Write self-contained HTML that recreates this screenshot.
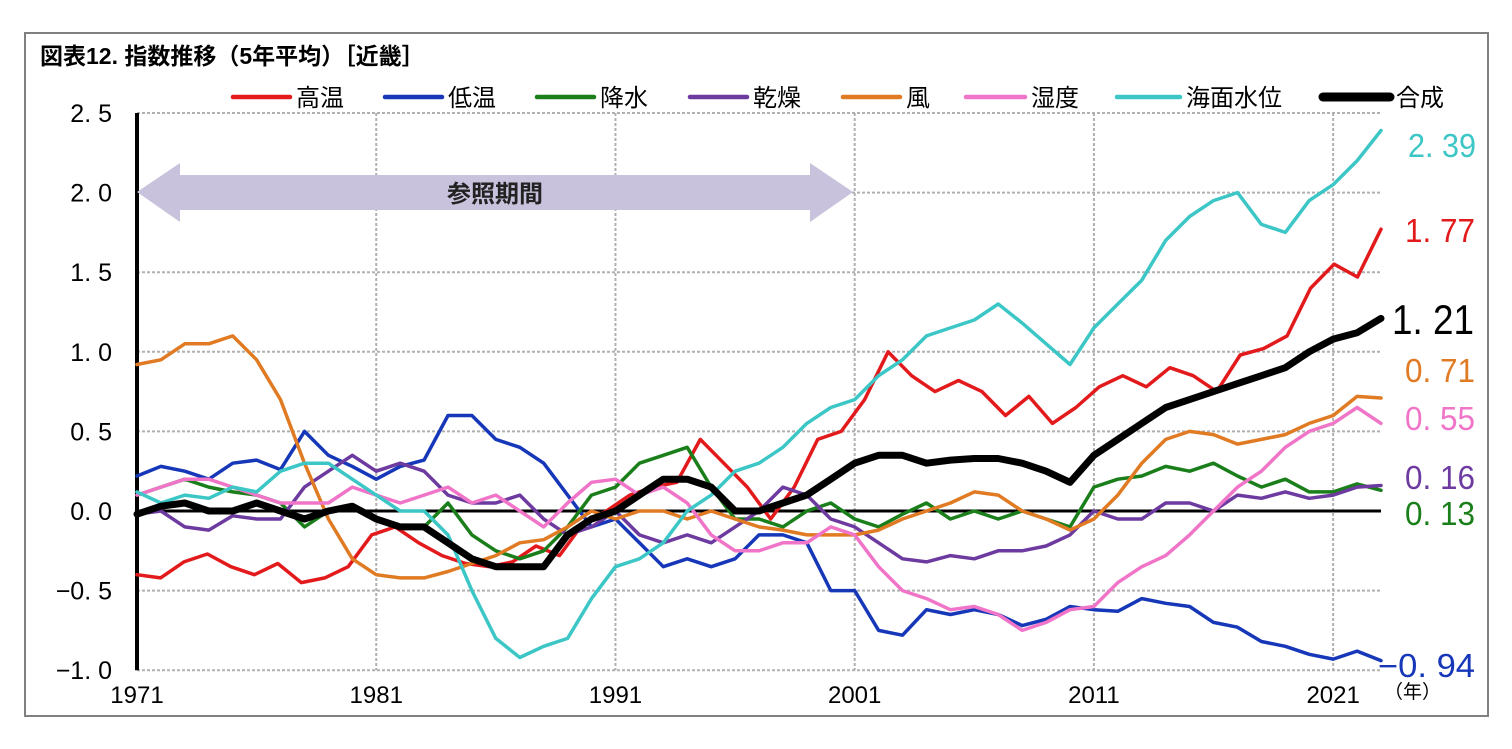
<!DOCTYPE html>
<html><head><meta charset="utf-8">
<style>
body{margin:0;background:#fff;width:1512px;height:744px;overflow:hidden;font-family:"Liberation Sans","Noto Sans CJK JP",sans-serif;}
svg text{font-family:"Liberation Sans","Noto Sans CJK JP",sans-serif;}
</style></head>
<body>
<svg id="chart" width="1512" height="744" xmlns="http://www.w3.org/2000/svg">
<rect x="25" y="33" width="1463" height="683" fill="#fff" stroke="#808080" stroke-width="2"/>
<text x="40" y="64" font-size="23" font-weight="bold" fill="#000">図表12. 指数推移（5年平均）［近畿］</text>
<g id="grid"></g>
<g id="arrow">
<polygon points="137,192 180,163 180,175 810,175 810,163 853,192 810,222 810,210 180,210 180,222" fill="#c9c2dc"/>
<text x="495" y="202" font-size="24" font-weight="bold" text-anchor="middle" fill="#222">参照期間</text>
</g>
<g id="series"></g>
<g id="legend"></g>
<g id="labels"></g>
</svg>
<script>
const years=[];for(let y=1971;y<=2023;y++)years.push(y);
const yTicks=[2.5,2.0,1.5,1.0,0.5,0.0,-0.5,-1.0];
const yTickLabels=["2. 5","2. 0","1. 5","1. 0","0. 5","0. 0","\u22120. 5","\u22121. 0"];
const xTicks=[1971,1981,1991,2001,2011,2021];
const seriesNames=["高温","低温","降水","乾燥","風","湿度","海面水位","合成"];
const seriesColors=["#e31a1c","#1537b8","#1a7f1a","#6d3aa0","#e07b24","#f075c8","#3cc6c6","#000000"];
const highTemp=[-0.4,-0.42,-0.32,-0.27,-0.35,-0.4,-0.33,-0.45,-0.42,-0.35,-0.15,-0.1,-0.2,-0.28,-0.33,-0.35,-0.32,-0.22,-0.28,-0.08,0.0,0.1,0.15,0.18,0.45,0.3,0.15,-0.05,0.15,0.45,0.5,0.7,1.0,0.85,0.75,0.82,0.75,0.6,0.72,0.55,0.65,0.78,0.85,0.78,0.9,0.85,0.75,0.98,1.02,1.1,1.4,1.55,1.47,1.77];
const lowTemp=[0.22,0.28,0.25,0.2,0.3,0.32,0.26,0.5,0.35,0.28,0.2,0.28,0.32,0.6,0.6,0.45,0.4,0.3,0.1,-0.1,-0.05,-0.2,-0.35,-0.3,-0.35,-0.3,-0.15,-0.15,-0.2,-0.5,-0.5,-0.75,-0.78,-0.62,-0.65,-0.62,-0.65,-0.72,-0.68,-0.6,-0.62,-0.63,-0.55,-0.58,-0.6,-0.7,-0.73,-0.82,-0.85,-0.9,-0.93,-0.88,-0.94];
const precip=[0.1,0.15,0.2,0.15,0.12,0.1,0.05,-0.1,0.0,0.02,-0.05,-0.1,-0.1,0.05,-0.15,-0.25,-0.3,-0.25,-0.1,0.1,0.15,0.3,0.35,0.4,0.15,-0.05,-0.05,-0.1,0.0,0.05,-0.05,-0.1,-0.02,0.05,-0.05,0.0,-0.05,0.0,-0.05,-0.1,0.15,0.2,0.22,0.28,0.25,0.3,0.22,0.15,0.2,0.12,0.12,0.17,0.13];
const drought=[-0.02,0.0,-0.1,-0.12,-0.03,-0.05,-0.05,0.15,0.25,0.35,0.25,0.3,0.25,0.1,0.05,0.05,0.1,-0.05,-0.15,-0.1,0.0,-0.15,-0.2,-0.15,-0.2,-0.1,0.0,0.15,0.1,-0.05,-0.1,-0.2,-0.3,-0.32,-0.28,-0.3,-0.25,-0.25,-0.22,-0.15,0.0,-0.05,-0.05,0.05,0.05,0.0,0.1,0.08,0.12,0.08,0.1,0.15,0.16];
const wind=[0.92,0.95,1.05,1.05,1.1,0.95,0.7,0.3,-0.05,-0.3,-0.4,-0.42,-0.42,-0.38,-0.33,-0.28,-0.2,-0.18,-0.1,0.0,-0.05,0.0,0.0,-0.05,0.0,-0.05,-0.1,-0.12,-0.15,-0.15,-0.15,-0.12,-0.05,0.0,0.05,0.12,0.1,0.0,-0.05,-0.12,-0.05,0.1,0.3,0.45,0.5,0.48,0.42,0.45,0.48,0.55,0.6,0.72,0.71];
const humidity=[0.1,0.15,0.2,0.2,0.15,0.1,0.05,0.05,0.05,0.15,0.1,0.05,0.1,0.15,0.05,0.1,0.0,-0.1,0.05,0.18,0.2,0.1,0.15,0.05,-0.15,-0.25,-0.25,-0.2,-0.2,-0.1,-0.15,-0.35,-0.5,-0.55,-0.62,-0.6,-0.65,-0.75,-0.7,-0.62,-0.6,-0.45,-0.35,-0.28,-0.15,0.0,0.15,0.25,0.4,0.5,0.55,0.65,0.55];
const seaLevel=[0.12,0.05,0.1,0.08,0.15,0.12,0.25,0.3,0.3,0.2,0.1,0.0,0.0,-0.15,-0.5,-0.8,-0.92,-0.85,-0.8,-0.55,-0.35,-0.3,-0.2,0.0,0.1,0.25,0.3,0.4,0.55,0.65,0.7,0.85,0.95,1.1,1.15,1.2,1.3,1.18,1.05,0.92,1.15,1.3,1.45,1.7,1.85,1.95,2.0,1.8,1.75,1.95,2.05,2.2,2.39];
const composite=[-0.02,0.03,0.05,0.0,0.0,0.05,0.0,-0.05,0.0,0.03,-0.05,-0.1,-0.1,-0.2,-0.3,-0.35,-0.35,-0.35,-0.15,-0.05,0.0,0.1,0.2,0.2,0.15,0.0,0.0,0.05,0.1,0.2,0.3,0.35,0.35,0.3,0.32,0.33,0.33,0.3,0.25,0.18,0.35,0.45,0.55,0.65,0.7,0.75,0.8,0.85,0.9,1.0,1.08,1.12,1.21];
const endLabels=["1.77","-0.94","0.13","0.16","0.71","0.55","2.39","1.21"];
const endLabelY=[230,665,513,477,370,418,145,322];

const NS="http://www.w3.org/2000/svg";
const X0=137,X1=1381,Y0=511,PXU=159.2;
const xs=y=>X0+(y-1971)*(X1-X0)/(2023-1971);
const ys=v=>Y0-v*PXU;
function mk(t,a,p){const e=document.createElementNS(NS,t);for(const k in a)e.setAttribute(k,a[k]);p.appendChild(e);return e;}
const grid=document.getElementById('grid');
yTicks.forEach((v,i)=>{
  if(v!==0){const l=mk('line',{x1:X0,x2:X1,y1:ys(v),y2:ys(v),stroke:'#b0b0b0','stroke-width':2,'stroke-dasharray':'3,2'},grid);
  
  }
  const t=mk('text',{x:112,y:ys(v)+9,'font-size':25,'text-anchor':'end',fill:'#000'},grid);
  t.textContent=yTickLabels[i];
  
  
});
xTicks.forEach(y=>{
  if(y!==1971){const l=mk('line',{x1:xs(y),x2:xs(y),y1:ys(2.5),y2:ys(-1),stroke:'#b0b0b0','stroke-width':2,'stroke-dasharray':'3,2'},grid);
  
  }
  const t=mk('text',{x:xs(y),y:703,'font-size':24,'text-anchor':'middle',fill:'#000'},grid);
  t.textContent=String(y);
  
  
});
const unit=mk('text',{x:1384,y:698,'font-size':19,fill:'#000'},grid);unit.textContent='（年）';


const za=mk('line',{x1:X0,x2:X1,y1:ys(0),y2:ys(0),stroke:'#000','stroke-width':3},grid);


const ya=mk('line',{x1:X0,x2:X0,y1:ys(2.5),y2:ys(-1),stroke:'#000','stroke-width':4},grid);



const data=[highTemp,lowTemp,precip,drought,wind,humidity,seaLevel,composite];
const keys=['high-temp','low-temp','precipitation','drought','wind','humidity','sea-level','composite'];
const sg=document.getElementById('series');
data.forEach((arr,i)=>{
  const step=(X1-X0)/(arr.length-1);
  const d=arr.map((v,j)=>(j?'L':'M')+(X0+j*step).toFixed(1)+','+ys(v).toFixed(1)).join(' ');
  const p=mk('path',{d:d,fill:'none',stroke:seriesColors[i],'stroke-width':i===7?7:3.5,'stroke-linejoin':'round','stroke-linecap':'round'},sg);
  
  
});
const lg=document.getElementById('legend');
const legX=[233,385,537,690,843,966,1117,1323];
const legW=[57,57,57,57,57,59,63,67];
seriesNames.forEach((n,i)=>{
  const l=mk('line',{x1:legX[i],x2:legX[i]+legW[i],y1:97,y2:97,stroke:seriesColors[i],'stroke-width':i===7?9:4.5,'stroke-linecap':'round'},lg);
  
  
  const t=mk('text',{x:legX[i]+legW[i]+6,y:106,'font-size':24,fill:'#000'},lg);
  t.textContent=n;
  
  
});
const lb=document.getElementById('labels');
const labX=[1405,1378,1405,1405,1405,1405,1408,1392];
const labW=[70,97,70,70,70,70,68,82];
endLabels.forEach((s,i)=>{
  const t=mk('text',{x:labX[i],y:endLabelY[i]+12,'font-size':i===7?42:33,textLength:labW[i],lengthAdjust:'spacingAndGlyphs',fill:seriesColors[i]},lb);
  t.textContent=s.replace('-','\u2212').replace('.','. ');
  
  
});
</script>
</body></html>
